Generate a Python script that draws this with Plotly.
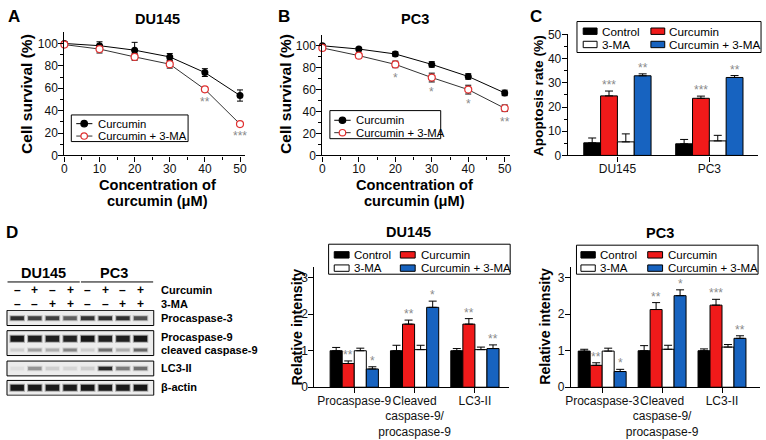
import plotly.graph_objects as go

W, H = 766, 440
def px_x(p): return p / W
def px_y(p): return 1 - p / H

FONT = "Liberation Sans, Arial, Helvetica, sans-serif"
RED = "#f01a1a"
BLUE = "#1763c0"
STAR = "#8a8a8a"

# ---------------- data ----------------
conc = [0, 10, 20, 30, 40, 50]
# Panel A: DU145 cell survival (%)
du145_cur = [100, 98, 94, 88, 74, 53.5]
du145_cur_err = [1.5, 3.5, 7, 3, 3.5, 5]
du145_combo = [99, 95, 88, 81.5, 59, 28]
du145_combo_err = [1, 3.5, 3, 3.5, 2, 2]
du145_stars = ["", "", "", "", "**", "***"]
# Panel B: PC3 cell survival (%)
pc3_cur = [100, 97, 92.5, 83, 72, 57]
pc3_cur_err = [1, 1.5, 2, 2.5, 2.5, 2.5]
pc3_combo = [98, 91, 83, 71, 60, 43]
pc3_combo_err = [1.5, 2, 3, 4, 4, 3]
pc3_stars = ["", "", "*", "*", "*", "**"]

# Panel C: apoptosis rate (%)
cell_lines = ["DU145", "PC3"]
groups = ["Control", "Curcumin", "3-MA", "Curcumin + 3-MA"]
apop_ctrl = [5.2, 4.8]
apop_ctrl_err = [2.0, 1.8]
apop_cur = [24.6, 23.6]
apop_cur_err = [2.0, 0.9]
apop_3ma = [5.6, 6.0]
apop_3ma_err = [3.3, 2.3]
apop_combo = [32.9, 32.2]
apop_combo_err = [0.8, 0.8]
apop_cur_stars = ["***", "***"]
apop_combo_stars = ["**", "**"]

# Panel D: relative intensity, DU145
du_cats = ["Procaspase-9", "Cleaved<br>caspase-9/<br>procaspase-9", "LC3-II"]
du_ctrl = [1.0, 1.0, 1.0]
du_ctrl_err = [0.09, 0.15, 0.06]
du_cur = [0.65, 1.73, 1.73]
du_cur_err = [0.07, 0.11, 0.15]
du_3ma = [1.0, 1.03, 1.03]
du_3ma_err = [0.07, 0.12, 0.07]
du_combo = [0.5, 2.19, 1.06]
du_combo_err = [0.06, 0.17, 0.1]
du_cur_stars = ["**", "**", "**"]
du_combo_stars = ["*", "*", "**"]

# Panel D: relative intensity, PC3
pc_cats = ["Procaspase-3", "Cleaved<br>caspase-9/<br>procaspase-9", "LC3-II"]
pc_ctrl = [0.99, 1.0, 1.0]
pc_ctrl_err = [0.05, 0.14, 0.05]
pc_cur = [0.6, 2.13, 2.25]
pc_cur_err = [0.07, 0.19, 0.16]
pc_3ma = [0.99, 1.04, 1.1]
pc_3ma_err = [0.08, 0.11, 0.07]
pc_combo = [0.43, 2.51, 1.34]
pc_combo_err = [0.06, 0.16, 0.07]
pc_cur_stars = ["**", "**", "***"]
pc_combo_stars = ["*", "*", "**"]

# Western blot (band darkness 0-1 per lane)
lane_curcumin = ["–", "+", "–", "+", "–", "+", "–", "+"]
lane_3ma = ["–", "–", "+", "+", "–", "–", "+", "+"]
blot_labels = ["Procaspase-3", "Procaspase-9", "cleaved caspase-9", "LC3-II", "β-actin"]
band_procasp3 = [0.8, 0.7, 0.72, 0.55, 0.78, 0.8, 0.8, 0.62]
band_procasp9 = [0.95, 0.9, 0.9, 0.88, 0.95, 0.9, 0.9, 0.95]
band_cleaved9 = [0.1, 0.28, 0.22, 0.38, 0.1, 0.48, 0.22, 0.52]
band_lc3 = [0.04, 0.32, 0.1, 0.08, 0.1, 0.85, 0.42, 0.48]
band_actin = [0.95, 0.93, 0.93, 0.93, 0.95, 0.93, 0.93, 0.95]

# ---------------- figure ----------------
fig = go.Figure()
shapes = []
annots = []

def text(x, y, s, size=12, bold=False, color="black", xanchor="center", yanchor="middle",
         angle=0, xref="paper", yref="paper", yshift=0):
    annots.append(dict(x=x, y=y, xref=xref, yref=yref, text=(f"<b>{s}</b>" if bold else s),
                       showarrow=False, xanchor=xanchor, yanchor=yanchor, textangle=angle,
                       yshift=yshift, font=dict(family=FONT, size=size, color=color)))

def ptext(px, py, s, **kw):
    text(px_x(px), px_y(py), s, **kw)

# ---- line charts (A, B) ----
def line_panel(xa, ya, cur, cur_err, combo, combo_err, stars):
    fig.add_trace(go.Scatter(x=conc, y=cur, mode="lines+markers", xaxis=xa, yaxis=ya,
                             line=dict(color="black", width=1),
                             marker=dict(color="black", size=7),
                             error_y=dict(type="data", array=cur_err, color="black", thickness=1, width=3),
                             cliponaxis=False, showlegend=False, name="Curcumin"))
    fig.add_trace(go.Scatter(x=conc, y=combo, mode="lines+markers", xaxis=xa, yaxis=ya,
                             line=dict(color="#333333", width=1),
                             marker=dict(color="white", size=7, line=dict(color="#e03030", width=1.2)),
                             error_y=dict(type="data", array=combo_err, color="black", thickness=1, width=3),
                             cliponaxis=False, showlegend=False, name="Curcumin + 3-MA"))
    for x, v, e, s in zip(conc, combo, combo_err, stars):
        if s:
            text(x, v - e, s, size=12, color=STAR, yanchor="top", xref=xa, yref=ya, yshift=-1)

line_panel("x", "y", du145_cur, du145_cur_err, du145_combo, du145_combo_err, du145_stars)
line_panel("x2", "y2", pc3_cur, pc3_cur_err, pc3_combo, pc3_combo_err, pc3_stars)

# ---- grouped bar charts ----
bar_colors = ["black", RED, "white", BLUE]

def bar_panel(xa, ya, ncat, series, errs, width, cur_stars, combo_stars):
    xs = list(range(ncat))
    for k, (vals, err, col) in enumerate(zip(series, errs, bar_colors)):
        fig.add_trace(go.Bar(x=xs, y=vals, width=width, offset=(k - 2) * width,
                             xaxis=xa, yaxis=ya, marker=dict(color=col, line=dict(color="black", width=1)),
                             error_y=dict(type="data", symmetric=False, array=err, arrayminus=[0] * ncat,
                                          color="black", thickness=1, width=4),
                             showlegend=False, name=groups[k]))
    for k, st in ((1, cur_stars), (3, combo_stars)):
        for i in xs:
            if st[i]:
                top = series[k][i] + errs[k][i]
                text(i + (k - 1.5) * width, top, st[i], size=12, color=STAR, yanchor="bottom",
                     xref=xa, yref=ya, yshift=-3)

bar_panel("x3", "y3", 2, [apop_ctrl, apop_cur, apop_3ma, apop_combo],
          [apop_ctrl_err, apop_cur_err, apop_3ma_err, apop_combo_err], 0.183,
          apop_cur_stars, apop_combo_stars)
bar_panel("x4", "y4", 3, [du_ctrl, du_cur, du_3ma, du_combo],
          [du_ctrl_err, du_cur_err, du_3ma_err, du_combo_err], 0.2, du_cur_stars, du_combo_stars)
bar_panel("x5", "y5", 3, [pc_ctrl, pc_cur, pc_3ma, pc_combo],
          [pc_ctrl_err, pc_cur_err, pc_3ma_err, pc_combo_err], 0.2, pc_cur_stars, pc_combo_stars)

# ---- western blot ----
row_y = [321.5, 342.7, 354.3, 373.3, 393.3]
row_thick = [4, 6, 3, 3.5, 6]
bands = [band_procasp3, band_procasp9, band_cleaved9, band_lc3, band_actin]
boxes = [(313.3, 329), (334.3, 360), (365.7, 381), (385.7, 401)]
for b0, b1 in boxes:
    shapes.append(dict(type="rect", xref="x6 domain", yref="y6", x0=0, x1=1, y0=b0, y1=b1,
                       line=dict(color="black", width=1), fillcolor="#ececec", layer="below"))
for yr, th, vals in zip(row_y, row_thick, bands):
    for i, a in enumerate(vals):
        fig.add_trace(go.Scatter(x=[i - 0.44, i + 0.44], y=[yr, yr], mode="lines", xaxis="x6", yaxis="y6",
                                 line=dict(color=f"rgba(20,20,20,{a*0.35:.3f})", width=th + 2),
                                 showlegend=False, hoverinfo="skip"))
        fig.add_trace(go.Scatter(x=[i - 0.38, i + 0.38], y=[yr, yr], mode="lines", xaxis="x6", yaxis="y6",
                                 line=dict(color=f"rgba(15,15,15,{a:.3f})", width=th),
                                 showlegend=False, hoverinfo="skip"))
for i in range(8):
    text(i, px_y(292), lane_curcumin[i], size=12, bold=True, xref="x6")
    text(i, px_y(307), lane_3ma[i], size=12, bold=True, xref="x6")
shapes.append(dict(type="line", xref="x6", yref="paper", x0=-0.55, x1=3.55, y0=px_y(284), y1=px_y(284),
                   line=dict(color="black", width=1)))
shapes.append(dict(type="line", xref="x6", yref="paper", x0=3.62, x1=7.72, y0=px_y(284), y1=px_y(284),
                   line=dict(color="black", width=1)))
text(1.5, px_y(274.5), "DU145", size=14.5, bold=True, xref="x6")
text(5.5, px_y(274.5), "PC3", size=14.5, bold=True, xref="x6")
ptext(155, 292, "Curcumin", size=11, bold=True, xanchor="left")
ptext(155, 306.5, "3-MA", size=11, bold=True, xanchor="left")
for lab, yy in zip(blot_labels, [321, 341.3, 354.5, 373, 393]):
    ptext(155, yy, lab, size=11, bold=True, xanchor="left")

# ---- manual legends ----
def line_legend(bx0, by0, bx1, by1, rows, sx0, sx1, mx, tx):
    shapes.append(dict(type="rect", xref="paper", yref="paper", x0=px_x(bx0), x1=px_x(bx1),
                       y0=px_y(by1), y1=px_y(by0), line=dict(color="black", width=1), fillcolor="white"))
    styles = [("black", "black", "black"), ("#333333", "white", "#e03030")]
    for (ry, (lc, fc, ec), lab) in zip(rows, styles, ["Curcumin", "Curcumin + 3-MA"]):
        shapes.append(dict(type="line", xref="paper", yref="paper", x0=px_x(sx0), x1=px_x(sx1),
                           y0=px_y(ry), y1=px_y(ry), line=dict(color=lc, width=1)))
        shapes.append(dict(type="circle", xref="paper", yref="paper", x0=px_x(mx - 3.3), x1=px_x(mx + 3.3),
                           y0=px_y(ry + 3.3), y1=px_y(ry - 3.3), fillcolor=fc, line=dict(color=ec, width=1.2)))
        ptext(tx, ry, lab, size=11.3, xanchor="left")

line_legend(66, 111.5, 184, 139, [120.5, 133.3], 71, 87.3, 79, 90.7)
line_legend(327.3, 107, 439.3, 136, [117, 129.8], 331.7, 348.3, 340, 351.7)

def bar_legend(bx0, by0, bx1, by1, rows, cols, size=11.5):
    shapes.append(dict(type="rect", xref="paper", yref="paper", x0=px_x(bx0), x1=px_x(bx1),
                       y0=px_y(by1), y1=px_y(by0), line=dict(color="black", width=1), fillcolor="white"))
    pos = [(0, 0), (0, 1), (1, 0), (1, 1)]
    for k, (r, c) in enumerate(pos):
        s0, s1, tx = cols[c]
        ry = rows[r]
        shapes.append(dict(type="rect", xref="paper", yref="paper", x0=px_x(s0), x1=px_x(s1),
                           y0=px_y(ry + 3.3), y1=px_y(ry - 3.3), fillcolor=bar_colors[k],
                           line=dict(color="black", width=1)))
        ptext(tx, ry, groups[k], size=size, xanchor="left")

bar_legend(577, 15, 763, 47, [25, 38.7], [(583.3, 597.3, 600), (651.7, 665.7, 668.3)], size=11.7)
bar_legend(326, 245, 509.5, 276, [256, 269.7], [(331.7, 346.7, 349.3), (398.5, 413.5, 417)])
bar_legend(576.5, 246, 760, 276, [256, 269.7], [(581, 595.5, 597.8), (648.5, 663.5, 666.5)])

# ---- titles, panel letters, axis titles ----
for px, py, s in [(8.3, 9.5, "A"), (280.5, 9.5, "B"), (536, 9.5, "C"), (6.5, 233, "D")]:
    ptext(px, py, s, size=17, bold=True)
ptext(152.7, 12.5, "DU145", size=14.5, bold=True)
ptext(413.3, 12.5, "PC3", size=14.5, bold=True)
ptext(407, 232, "DU145", size=14.5, bold=True)
ptext(660.7, 233, "PC3", size=14.5, bold=True)

ptext(20, 90, "Cell survival (%)", size=15.5, bold=True, angle=-90)
ptext(281.7, 90, "Cell survival (%)", size=15.5, bold=True, angle=-90)
for cx in (153.3, 413.3):
    ptext(cx, 184, "Concentration of", size=14.6, bold=True)
    ptext(cx, 200.2, "curcumin (μM)", size=14.6, bold=True)
ptext(538, 91.7, "Apoptosis rate (%)", size=13.7, bold=True, angle=-90)
ptext(294, 330, "Relative intensity", size=14.2, bold=True, angle=-90)
ptext(544, 330, "Relative intensity", size=14.2, bold=True, angle=-90)

# ---- axes ----
ax = dict(showline=True, linecolor="black", linewidth=1.2, ticks="outside", ticklen=5, tickwidth=1.2,
          tickcolor="black", showgrid=False, zeroline=False, fixedrange=True, tickangle=0,
          tickfont=dict(family=FONT, size=12, color="#111111"))
axx = dict(ax, ticklabelstandoff=-3)
axy = dict(ax, ticklabelstandoff=-2)
minor_x = dict(tickvals=[5, 15, 25, 35, 45], ticks="outside", ticklen=3, tickwidth=1.2, tickcolor="black")
minor_y = dict(tickvals=[10, 30, 50, 70, 90], ticks="outside", ticklen=3, tickwidth=1.2, tickcolor="black")

layout = dict(
    width=W, height=H, margin=dict(l=0, r=0, t=0, b=0), plot_bgcolor="white", paper_bgcolor="white",
    showlegend=False, barmode="overlay", font=dict(family=FONT),
    xaxis=dict(axx, domain=[px_x(59), px_x(241.8)], range=[0, 51.5], tickvals=conc, anchor="y", minor=minor_x),
    yaxis=dict(axy, domain=[px_y(153.3), px_y(26.1)], range=[0, 110], tickvals=[0, 20, 40, 60, 80, 100],
               anchor="x", minor=minor_y),
    xaxis2=dict(axx, domain=[px_x(319.7), px_x(509.5)], range=[0, 51.5], tickvals=conc, anchor="y2", minor=minor_x),
    yaxis2=dict(axy, domain=[px_y(153.3), px_y(28.7)], range=[0, 110], tickvals=[0, 20, 40, 60, 80, 100],
                anchor="x2", minor=minor_y),
    xaxis3=dict(axx, domain=[px_x(567.7), px_x(760)], range=[-0.54, 1.53], tickvals=[0, 1],
                ticktext=cell_lines, anchor="y3"),
    yaxis3=dict(axy, domain=[px_y(153.3), px_y(28.3)], range=[0, 50], tickvals=[0, 10, 20, 30, 40, 50],
                anchor="x3", minor=dict(tickvals=[5, 15, 25, 35, 45], ticks="outside", ticklen=3,
                                        tickwidth=1.2, tickcolor="black")),
    xaxis4=dict(axx, domain=[px_x(311.7), px_x(508)], range=[-0.66, 2.56], tickvals=[0, 1, 2],
                ticktext=du_cats, anchor="y4"),
    yaxis4=dict(axy, domain=[px_y(392.7), px_y(268.4)], range=[0, 3.3], tickvals=[0, 1, 2, 3], anchor="x4"),
    xaxis5=dict(axx, domain=[px_x(571), px_x(761.7)], range=[-0.52, 2.63], tickvals=[0, 1, 2],
                ticktext=pc_cats, anchor="y5"),
    yaxis5=dict(axy, domain=[px_y(392.7), px_y(268.4)], range=[0, 3.3], tickvals=[0, 1, 2, 3], anchor="x5"),
    xaxis6=dict(domain=[px_x(1), px_x(149.3)], range=[-0.58, 7.75], visible=False, anchor="y6", fixedrange=True),
    yaxis6=dict(domain=[px_y(401.5), px_y(313)], range=[401.5, 313], visible=False, anchor="x6", fixedrange=True),
    shapes=shapes, annotations=annots,
)
fig.update_layout(**layout)
fig.write_html("out.html", config={"displayModeBar": False},
               post_script="document.body.style.margin='0';document.body.style.overflow='hidden';")
